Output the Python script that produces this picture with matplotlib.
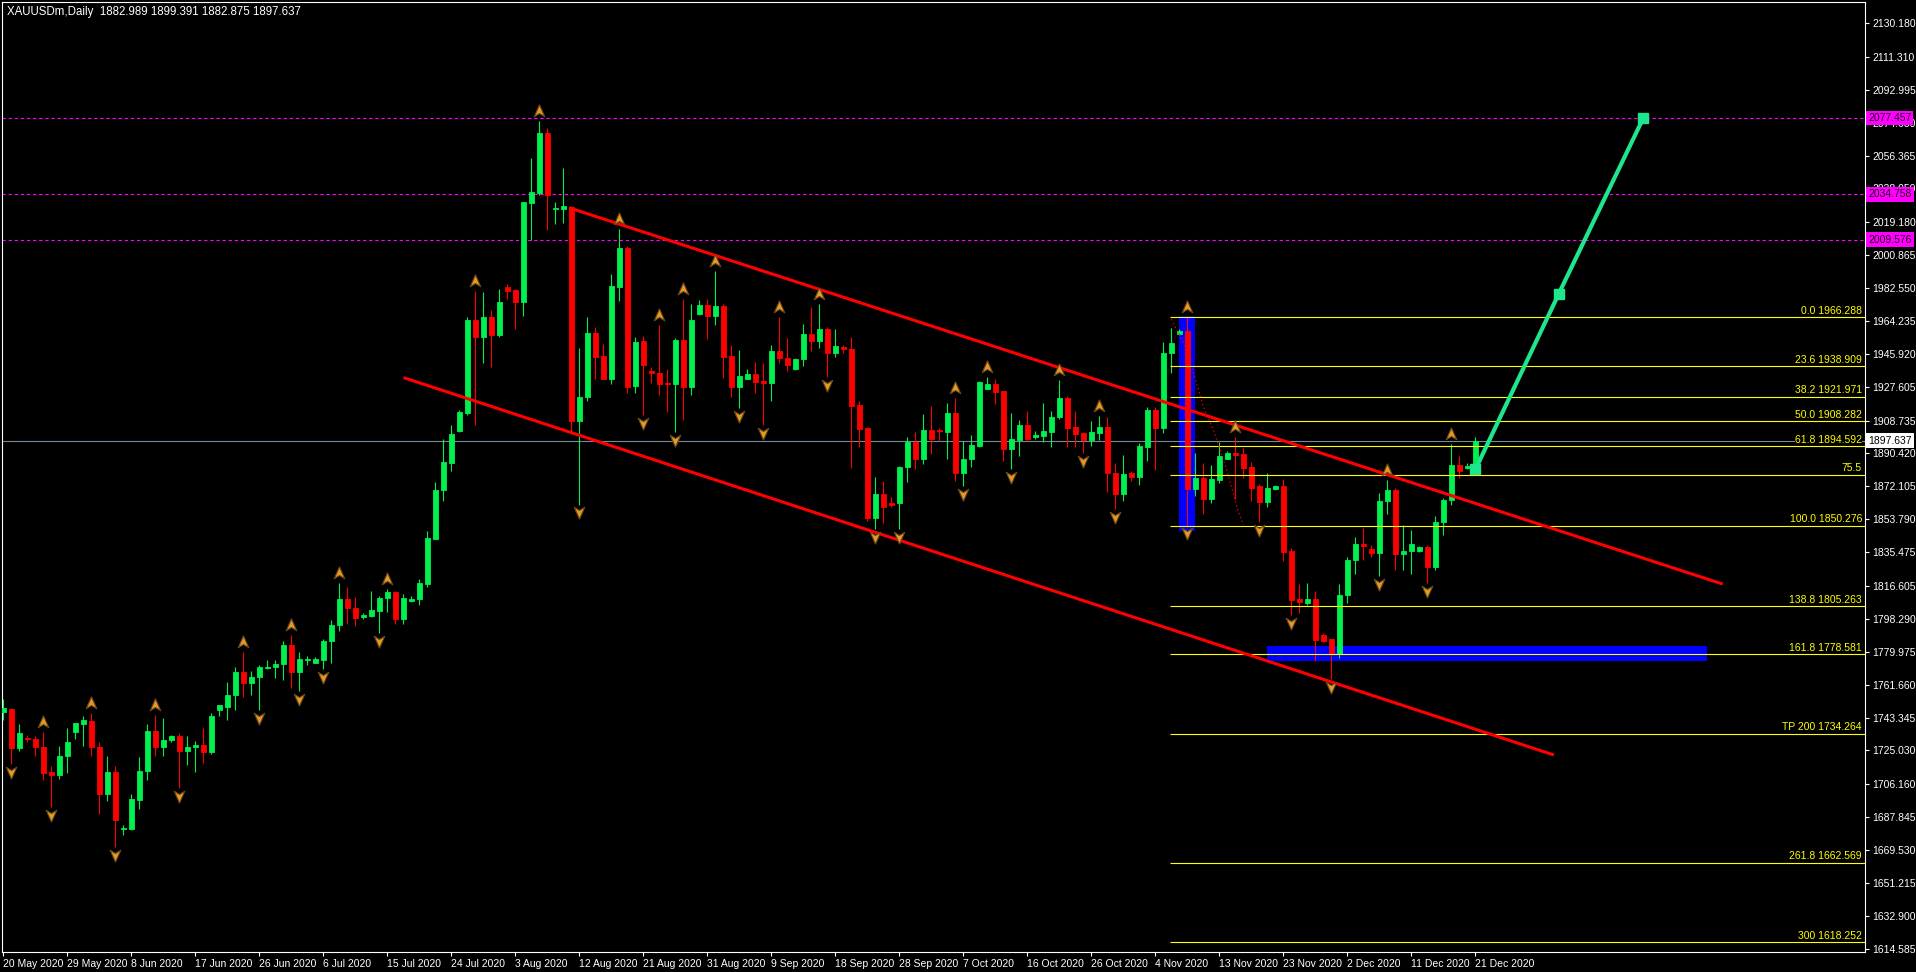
import matplotlib
matplotlib.use('Agg')
import matplotlib.pyplot as plt
import matplotlib.transforms as mtransforms
from matplotlib.patches import Rectangle
from matplotlib.path import Path

plt.rcParams['font.family'] = ['Liberation Sans Narrow', 'Liberation Sans', 'DejaVu Sans']

header = 'XAUUSDm,Daily  1882.989 1899.391 1882.875 1897.637'

# daily bars 20 May 2020 .. 21 Dec 2020 (broker also prints Sunday bars)
opens = [1746.2, 1748.0, 1726.3, 1732.1, 1731.2, 1726.8, 1713.1, 1711.4, 1721.9, 1735.1,
         1739.5, 1741.7, 1726.8, 1700.8, 1713.1, 1681.0, 1681.2, 1697.7, 1713.6, 1736.0,
         1726.8, 1730.7, 1732.9, 1724.6, 1726.8, 1728.1, 1724.1, 1747.5, 1749.5, 1755.8,
         1768.6, 1762.4, 1766.0, 1770.8, 1771.3, 1773.0, 1783.6, 1768.6, 1775.6, 1773.9,
         1775.2, 1785.8, 1795.0, 1809.6, 1804.3, 1799.4, 1800.1, 1802.5, 1810.0, 1813.3,
         1798.5, 1808.2, 1809.1, 1817.9, 1843.0, 1869.9, 1885.3, 1902.9, 1913.1, 1964.8,
         1955.5, 1966.3, 1956.4, 1983.0, 1981.5, 1975.0, 2030.1, 2035.3, 2069.1, 2026.4,
         2026.8, 2027.9, 1908.7, 1921.7, 1957.4, 1944.7, 1932.1, 1983.4, 2004.9, 1928.0,
         1953.1, 1936.4, 1935.1, 1929.9, 1929.1, 1953.6, 1927.6, 1968.1, 1973.1, 1967.2,
         1972.6, 1944.7, 1927.6, 1932.1, 1934.7, 1930.8, 1929.9, 1947.5, 1943.8, 1937.3,
         1942.9, 1956.8, 1953.3, 1959.8, 1946.6, 1949.9, 1948.4, 1917.3, 1904.6, 1854.5,
         1867.9, 1862.7, 1862.7, 1882.7, 1896.6, 1887.4, 1903.5, 1903.5, 1902.6, 1912.8,
         1879.7, 1887.2, 1894.8, 1926.5, 1929.1, 1925.1, 1892.9, 1898.0, 1906.1, 1899.8,
         1900.4, 1902.6, 1910.6, 1921.3, 1905.2, 1901.7, 1898.0, 1902.0, 1905.2, 1879.7,
         1867.9, 1879.4, 1877.2, 1894.2, 1914.7, 1904.8, 1946.2, 1956.8, 1958.7, 1870.8,
         1876.5, 1865.2, 1875.5, 1887.5, 1890.8, 1890.0, 1882.9, 1872.1, 1863.2, 1870.8,
         1872.1, 1836.1, 1809.5, 1807.4, 1809.5, 1789.5, 1787.0, 1778.8, 1811.5, 1831.2,
         1840.2, 1837.1, 1835.1, 1863.7, 1870.1, 1834.5, 1836.3, 1836.3, 1838.4, 1827.4,
         1852.4, 1864.5, 1884.2, 1882.4, 1882.989]
highs = [1753.9, 1748.5, 1739.5, 1733.4, 1732.9, 1735.1, 1716.4, 1727.4, 1737.3, 1740.5,
         1744.4, 1745.7, 1729.6, 1721.9, 1716.4, 1683.4, 1700.8, 1721.5, 1740.0, 1744.8,
         1743.1, 1733.8, 1734.7, 1732.9, 1730.3, 1737.8, 1745.7, 1750.6, 1763.1, 1771.5,
         1779.6, 1769.1, 1772.6, 1775.2, 1775.2, 1785.8, 1789.5, 1779.6, 1777.9, 1777.0,
         1787.1, 1797.7, 1818.4, 1816.2, 1810.4, 1801.6, 1814.0, 1811.1, 1815.1, 1814.0,
         1812.2, 1810.9, 1820.6, 1847.0, 1874.3, 1898.5, 1906.2, 1914.6, 1966.3, 1981.1,
         1980.4, 1970.3, 1982.1, 1984.8, 1982.1, 2030.5, 2055.0, 2075.5, 2071.5, 2030.5,
         2049.6, 2028.3, 1949.0, 1966.3, 1961.1, 1951.4, 1990.2, 2015.5, 2006.0, 1955.1,
         1955.9, 1938.4, 1962.0, 1937.3, 1954.9, 1976.5, 1973.7, 1975.9, 1976.5, 1992.3,
         1973.5, 1950.9, 1948.1, 1937.5, 1941.4, 1940.6, 1950.9, 1966.3, 1954.9, 1943.4,
         1962.4, 1971.8, 1973.7, 1961.0, 1959.8, 1950.9, 1955.1, 1919.5, 1905.4, 1877.2,
         1874.9, 1866.0, 1883.5, 1899.4, 1902.4, 1912.4, 1916.9, 1904.6, 1918.4, 1921.3,
         1897.6, 1900.7, 1931.0, 1932.9, 1931.7, 1925.5, 1912.8, 1909.1, 1914.1, 1902.9,
         1918.4, 1914.3, 1931.4, 1922.5, 1914.1, 1902.6, 1908.5, 1911.3, 1910.9, 1884.9,
         1889.8, 1880.5, 1896.1, 1916.5, 1916.5, 1952.7, 1960.2, 1959.6, 1966.3, 1890.8,
         1884.9, 1884.2, 1896.9, 1891.8, 1899.5, 1893.4, 1885.7, 1873.4, 1879.8, 1872.9,
         1876.0, 1837.6, 1817.7, 1818.4, 1814.1, 1790.3, 1787.7, 1817.7, 1832.5, 1844.0,
         1849.1, 1839.6, 1868.3, 1875.5, 1871.4, 1850.4, 1847.8, 1838.9, 1839.4, 1855.5,
         1865.7, 1895.9, 1889.3, 1884.9, 1899.391]
lows = [1741.8, 1717.5, 1724.6, 1729.9, 1721.9, 1708.7, 1693.7, 1709.1, 1712.7, 1731.6,
        1727.4, 1721.9, 1689.5, 1696.6, 1671.3, 1677.9, 1680.5, 1692.2, 1708.3, 1721.9,
        1721.9, 1729.6, 1704.3, 1716.9, 1713.1, 1718.0, 1722.8, 1744.0, 1742.2, 1747.3,
        1755.0, 1755.8, 1747.3, 1770.4, 1765.5, 1764.2, 1759.8, 1758.3, 1772.6, 1773.5,
        1770.4, 1773.7, 1791.3, 1795.7, 1794.6, 1798.1, 1799.4, 1790.6, 1802.3, 1795.5,
        1795.7, 1807.8, 1806.0, 1816.2, 1842.6, 1863.7, 1880.9, 1902.5, 1911.9, 1906.3,
        1941.0, 1938.8, 1955.5, 1976.5, 1960.0, 1967.2, 2009.3, 2034.4, 2014.9, 2018.3,
        2019.0, 1901.6, 1862.0, 1919.9, 1931.7, 1931.7, 1928.9, 1975.6, 1924.3, 1924.3,
        1911.9, 1929.5, 1923.0, 1913.7, 1902.6, 1909.1, 1923.0, 1967.6, 1954.0, 1962.0,
        1932.3, 1921.7, 1915.9, 1931.9, 1923.9, 1906.1, 1919.9, 1941.0, 1936.5, 1937.0,
        1939.3, 1947.7, 1949.4, 1932.8, 1944.4, 1946.2, 1882.2, 1894.2, 1853.0, 1848.2,
        1851.9, 1860.8, 1848.2, 1874.7, 1881.6, 1884.4, 1890.2, 1897.6, 1887.2, 1874.9,
        1872.5, 1883.1, 1894.2, 1926.3, 1918.0, 1886.3, 1881.8, 1889.0, 1897.2, 1898.5,
        1897.0, 1894.2, 1909.8, 1893.9, 1894.2, 1890.9, 1894.8, 1898.0, 1869.2, 1859.7,
        1864.2, 1875.1, 1873.1, 1886.4, 1881.2, 1902.0, 1935.5, 1956.4, 1850.3, 1867.0,
        1856.8, 1862.7, 1873.9, 1887.2, 1865.0, 1877.0, 1863.7, 1852.4, 1860.6, 1870.1,
        1830.4, 1800.5, 1801.8, 1806.1, 1774.9, 1785.2, 1764.7, 1776.7, 1807.4, 1823.5,
        1831.2, 1833.0, 1822.3, 1856.5, 1825.3, 1825.3, 1823.5, 1835.6, 1818.4, 1825.3,
        1844.8, 1861.9, 1876.5, 1881.9, 1882.875]
closes = [1748.4, 1726.3, 1734.7, 1731.2, 1726.8, 1712.7, 1711.4, 1721.9, 1729.6, 1740.2,
          1742.2, 1726.8, 1700.8, 1713.1, 1686.3, 1681.9, 1698.2, 1713.6, 1736.0, 1726.8,
          1730.7, 1732.9, 1724.6, 1726.8, 1728.1, 1724.1, 1744.0, 1750.1, 1755.8, 1768.6,
          1762.4, 1766.0, 1771.7, 1771.7, 1773.4, 1783.6, 1768.6, 1776.1, 1776.1, 1776.1,
          1786.2, 1795.0, 1809.6, 1804.3, 1799.0, 1800.3, 1803.0, 1810.0, 1813.3, 1798.5,
          1810.0, 1809.6, 1818.4, 1843.5, 1869.9, 1885.7, 1901.4, 1913.5, 1964.8, 1955.5,
          1966.3, 1956.4, 1974.8, 1981.1, 1975.0, 2030.5, 2036.1, 2069.1, 2034.4, 2027.4,
          2028.3, 1908.7, 1921.7, 1957.4, 1944.0, 1932.1, 1983.7, 2004.9, 1927.6, 1952.3,
          1939.7, 1935.1, 1929.1, 1929.3, 1953.6, 1927.6, 1964.8, 1973.1, 1967.2, 1972.6,
          1944.4, 1927.6, 1933.6, 1934.7, 1930.4, 1929.9, 1947.5, 1943.8, 1939.7, 1942.9,
          1956.8, 1953.3, 1959.8, 1946.6, 1950.3, 1948.4, 1917.1, 1904.3, 1854.5, 1867.9,
          1860.8, 1861.9, 1882.7, 1896.6, 1887.4, 1903.5, 1898.5, 1902.8, 1912.8, 1879.7,
          1887.2, 1895.2, 1930.3, 1929.1, 1924.7, 1892.9, 1898.3, 1906.1, 1898.5, 1900.7,
          1903.0, 1910.9, 1921.3, 1904.8, 1901.3, 1898.0, 1902.4, 1905.2, 1879.4, 1867.9,
          1879.0, 1877.2, 1894.6, 1914.7, 1904.8, 1946.2, 1952.2, 1958.7, 1870.8, 1876.5,
          1865.2, 1876.0, 1889.3, 1890.8, 1889.5, 1882.4, 1871.4, 1863.2, 1871.4, 1872.4,
          1835.6, 1809.0, 1807.7, 1809.5, 1786.5, 1786.0, 1778.8, 1811.5, 1831.2, 1840.2,
          1839.1, 1835.1, 1863.7, 1870.1, 1834.5, 1836.3, 1840.2, 1838.4, 1827.4, 1852.4,
          1864.5, 1884.2, 1880.6, 1883.6, 1897.637]

date_labels = ['20 May 2020', '29 May 2020', '8 Jun 2020', '17 Jun 2020', '26 Jun 2020',
               '6 Jul 2020', '15 Jul 2020', '24 Jul 2020', '3 Aug 2020', '12 Aug 2020',
               '21 Aug 2020', '31 Aug 2020', '9 Sep 2020', '18 Sep 2020', '28 Sep 2020',
               '7 Oct 2020', '16 Oct 2020', '26 Oct 2020', '4 Nov 2020', '13 Nov 2020',
               '23 Nov 2020', '2 Dec 2020', '11 Dec 2020', '21 Dec 2020']
price_ticks = [2130.180, 2111.310, 2092.995, 2074.680, 2056.365, 2038.050, 2019.180,
               2000.865, 1982.550, 1964.235, 1945.920, 1927.605, 1908.735, 1890.420,
               1872.105, 1853.790, 1835.475, 1816.605, 1798.290, 1779.975, 1761.660,
               1743.345, 1725.030, 1706.160, 1687.845, 1669.530, 1651.215, 1632.900,
               1614.585]

# fractal arrows (bar numbers)
fractal_up = [5, 11, 19, 30, 36, 42, 48, 59, 67, 77, 82, 85, 89, 97, 102, 119, 123,
              132, 137, 148, 154, 173, 181]
fractal_down = [1, 6, 14, 22, 32, 37, 40, 47, 72, 80, 84, 92, 95, 103, 109, 112, 120,
                126, 135, 139, 148, 157, 161, 166, 172, 178]

# fibo on the 9 Nov candle
fib_labels = ['0.0 1966.288', '23.6 1938.909', '38.2 1921.971', '50.0 1908.282',
              '61.8 1894.592', '75.5', '100.0 1850.276', '138.8 1805.263',
              '161.8 1778.581', 'TP 200 1734.264', '261.8 1662.569', '300 1618.252']
fib_prices = [1966.288, 1938.909, 1921.971, 1908.282, 1894.592, 1878.699, 1850.276,
              1805.263, 1778.581, 1734.264, 1662.569, 1618.252]
fib_from = 145.8

levels = [2077.457, 2034.758, 2009.576]
bid = 1897.637

upper_bars = [70.7, 214.9]
upper_prices = [2027.3, 1817.7]
lower_bars = [50.0, 193.8]
lower_prices = [1932.7, 1722.5]

zone_bars = [147, 149]
zone_prices = [1847.5, 1967.0]
support_bars = [158, 213]
support_prices = [1775.0, 1783.1]

path_bars = [146.0, 147.5, 148.9, 150.0, 151.4, 152.9, 154.3, 155.0]
path_prices = [1965.2, 1951.8, 1933.2, 1916.5, 1901.7, 1881.2, 1859.0, 1850.6]

target_bars = [184, 194.4, 205]
target_prices = [1881.6, 1979.3, 2077.457]

BULL = '#00F050'
BEAR = '#FF0000'
W, H = 1916, 972

fig = plt.figure(figsize=(W / 100, H / 100), dpi=100, facecolor='black')
ax = fig.add_axes([2 / W, 1 - 952 / H, 1863 / W, 950 / H], facecolor='black')

n = len(opens)
xs = list(range(n))
cols = [BULL if c >= o else BEAR for o, c in zip(opens, closes)]
bottoms = [min(o, c) for o, c in zip(opens, closes)]
heights = [abs(c - o) for o, c in zip(opens, closes)]

ax.add_patch(Rectangle((zone_bars[0], zone_prices[0]), zone_bars[1] - zone_bars[0],
                       zone_prices[1] - zone_prices[0], color='#0000FF', lw=0, zorder=1))
ax.add_patch(Rectangle((support_bars[0], support_prices[0]), support_bars[1] - support_bars[0],
                       support_prices[1] - support_prices[0], color='#0000FF', lw=0, zorder=1))

ax.axhline(bid, color='#778899', lw=0.8, zorder=2)
for lv in levels:
    ax.axhline(lv, color='#FF00FF', lw=0.8, dashes=(3, 2.5), zorder=2)

ax.vlines(xs, lows, highs, colors=cols, lw=0.8, zorder=3)
ax.bar(xs, heights, bottom=bottoms, width=0.58, color=cols, edgecolor=cols,
       linewidth=0.6, zorder=4)

ax.hlines(fib_prices, fib_from, 240, colors='#FFFF00', lw=0.8, zorder=5)
blend = mtransforms.blended_transform_factory(ax.transAxes, ax.transData)
lift = mtransforms.offset_copy(blend, fig=fig, x=0, y=1.5, units='dots')
for lab, p in zip(fib_labels, fib_prices):
    ax.text(1 - 3 / 1863, p, lab, transform=lift, ha='right', va='bottom',
            color='#FFFF00', fontsize=7.5, zorder=6,
            bbox=dict(facecolor='black', edgecolor='none', pad=0.2))

ax.plot(upper_bars, upper_prices, color='#FF0000', lw=2.2, zorder=6, solid_capstyle='butt')
ax.plot(lower_bars, lower_prices, color='#FF0000', lw=2.2, zorder=6, solid_capstyle='butt')
ax.plot(path_bars, path_prices, color='#FF0000', lw=0.8, dashes=(1.2, 2.5), zorder=6)

up_arrow = Path([(0, 1), (0.8, -0.8), (0, -0.3), (-0.8, -0.8), (0, 1)],
                [Path.MOVETO, Path.LINETO, Path.LINETO, Path.LINETO, Path.CLOSEPOLY])
down_arrow = Path([(0, -1), (0.8, 0.8), (0, 0.3), (-0.8, 0.8), (0, -1)],
                  [Path.MOVETO, Path.LINETO, Path.LINETO, Path.LINETO, Path.CLOSEPOLY])
ax.plot(fractal_up, [highs[i] + 5.6 for i in fractal_up], ls='none', marker=up_arrow,
        ms=9.5, mfc='#E39B2A', mec='#6E4712', mew=0.8, zorder=7)
ax.plot(fractal_down, [lows[i] - 4.4 for i in fractal_down], ls='none', marker=down_arrow,
        ms=9.5, mfc='#E39B2A', mec='#6E4712', mew=0.8, zorder=7)

ax.plot(target_bars, target_prices, color='#1EE68C', lw=3, marker='s', ms=6.5,
        mfc='#1EE68C', mec='#1EE68C', zorder=8, solid_capstyle='butt')

ax.set_xlim(-0.1875, 232.69)
ax.set_ylim(1612.76, 2141.9)

ax.set_xticks(list(range(0, n, 8)))
ax.set_xticklabels(date_labels, ha='left')
ax.yaxis.tick_right()
ax.set_yticks(price_ticks)
ax.set_yticklabels([f'{v:.3f}' for v in price_ticks])
ax.tick_params(axis='both', colors='white', direction='out', length=3, width=0.8,
               labelsize=7.5, pad=2)
for s in ax.spines.values():
    s.set_color('white')
    s.set_linewidth(0.8)

for lv in levels:
    ax.text(1 + 3 / 1863, lv, f'{lv:.3f}', transform=blend, ha='left', va='center',
            fontsize=7.5, color='#200020', clip_on=False, zorder=10,
            bbox=dict(facecolor='#FF00FF', edgecolor='none', pad=1.6))
ax.text(1 + 3 / 1863, bid, f'{bid:.3f}', transform=blend, ha='left', va='center',
        fontsize=7.5, color='black', clip_on=False, zorder=10,
        bbox=dict(facecolor='white', edgecolor='none', pad=1.6))

fig.text(7 / W, 1 - 12 / H, header, color='white', fontsize=8.3, va='center', ha='left')

fig.savefig('out.png', dpi=100, facecolor='black')
